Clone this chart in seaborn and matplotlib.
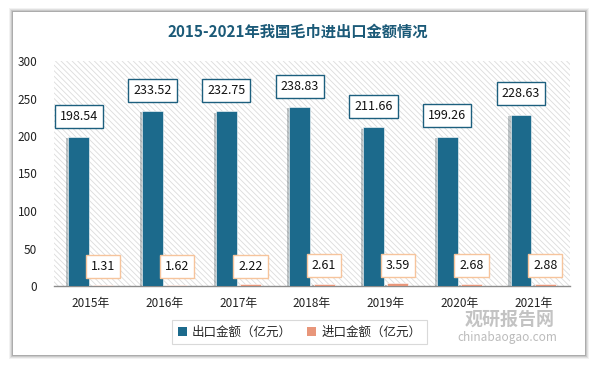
import matplotlib
matplotlib.use("Agg")
from matplotlib import pyplot as plt
from matplotlib.patches import Rectangle
import matplotlib.patheffects as pe
import pandas as pd
import seaborn as sns

years = ["2015年", "2016年", "2017年", "2018年", "2019年", "2020年", "2021年"]
export_vals = [198.54, 233.52, 232.75, 238.83, 211.66, 199.26, 228.63]
import_vals = [1.31, 1.62, 2.22, 2.61, 3.59, 2.68, 2.88]
series = ["出口金额（亿元）", "进口金额（亿元）"]
colors = ["#1c6a8c", "#e8967a"]
label_edges = ["#1c5f7e", "#f6c49c"]

sns.set_theme(style="white")
plt.rcParams["font.family"] = ["Noto Sans CJK SC", "DejaVu Sans"]
plt.rcParams["hatch.linewidth"] = 0.6

df = pd.DataFrame({
    "year": years * 2,
    "value": export_vals + import_vals,
    "series": [series[0]] * len(years) + [series[1]] * len(years),
})

fig = plt.figure(figsize=(5.97, 3.65), dpi=100)
fig.patch.set_facecolor("white")

# card with soft shadow
for i, a in enumerate([0.05, 0.07, 0.1, 0.14]):
    d = 4 - i
    fig.patches.append(Rectangle((13 / 597 - d / 597, 10 / 365 - d / 365),
                                 (572 + 2 * d) / 597, (343 + 2 * d) / 365,
                                 transform=fig.transFigure, facecolor="black",
                                 alpha=a, edgecolor="none", zorder=0))
fig.patches.append(Rectangle((13 / 597, 10 / 365), 572 / 597, 343 / 365,
                             transform=fig.transFigure, facecolor="white",
                             edgecolor="none", zorder=1))

ax = fig.add_axes([54 / 597, 79 / 365, 516 / 597, 225 / 365])
ax.set_zorder(2)
ax.patch.set_alpha(0)

ax.add_patch(Rectangle((0, 0), 1, 1, transform=ax.transAxes, facecolor="white",
                       edgecolor="#dcdcdc", hatch="\\\\\\\\\\\\", linewidth=0, zorder=0))

sns.barplot(data=df, x="year", y="value", hue="series", palette=colors,
            saturation=1, width=0.66, gap=0.14, ax=ax, legend=True, zorder=3,
            edgecolor="white", linewidth=0.4)

for cont in ax.containers:
    for p in cont:
        p.set_path_effects([pe.SimplePatchShadow(offset=(-1.5, -1), alpha=0.25), pe.Normal()])

ax.set_ylim(0, 300)
ax.set_yticks(range(0, 301, 50))
ax.set_xlim(-0.5, 6.5)
ax.set_xlabel("")
ax.set_ylabel("")
ax.tick_params(axis="both", labelsize=8.5, colors="#222222", length=0)
ax.tick_params(axis="y", pad=12)
ax.tick_params(axis="x", pad=8)
for s in ["left", "right", "top"]:
    ax.spines[s].set_visible(False)
ax.spines["bottom"].set_color("#8c8c8c")
ax.spines["bottom"].set_linewidth(1)
ax.spines["bottom"].set_zorder(2)

# value labels
for k, cont in enumerate(ax.containers):
    vals = export_vals if k == 0 else import_vals
    for bar, v in zip(cont, vals):
        cx = bar.get_x() + bar.get_width() / 2
        off = 15 if k == 0 else 13
        ax.annotate(f"{v:.2f}", (cx, bar.get_height()), xytext=(0, off),
                    textcoords="offset points", ha="center", va="center",
                    fontsize=9, color="#111111", zorder=5,
                    bbox=dict(boxstyle="square,pad=0.4", facecolor="white",
                              edgecolor=label_edges[k], linewidth=1))

leg = ax.legend(loc="center", bbox_to_anchor=(0.476, -0.205), ncol=2,
                frameon=True, fontsize=9, handlelength=0.75, handleheight=0.75,
                columnspacing=1.2, handletextpad=0.4, borderpad=0.45,
                fancybox=False)
leg.get_frame().set_edgecolor("#d0d0d0")
leg.get_frame().set_linewidth(0.8)
for h in leg.legend_handles:
    h.set_edgecolor("none")
    h.set_path_effects([])

fig.text(298 / 597, 1 - 32 / 365, "2015-2021年我国毛巾进出口金额情况",
         ha="center", va="center", fontsize=11, fontweight="bold",
         color="#1b5a78", zorder=5)

# watermark
fig.text(510 / 597, 1 - 319 / 365, "观研报告网", ha="center", va="center",
         fontsize=13, fontweight="bold", color="#b4b4b4", alpha=0.8, zorder=5)
fig.text(507 / 597, 1 - 337 / 365, "chinabaogao.com", ha="center", va="center",
         fontsize=8.5, color="#b4b4b4", alpha=0.9, zorder=5)

fig.savefig("out.png", dpi=100)
